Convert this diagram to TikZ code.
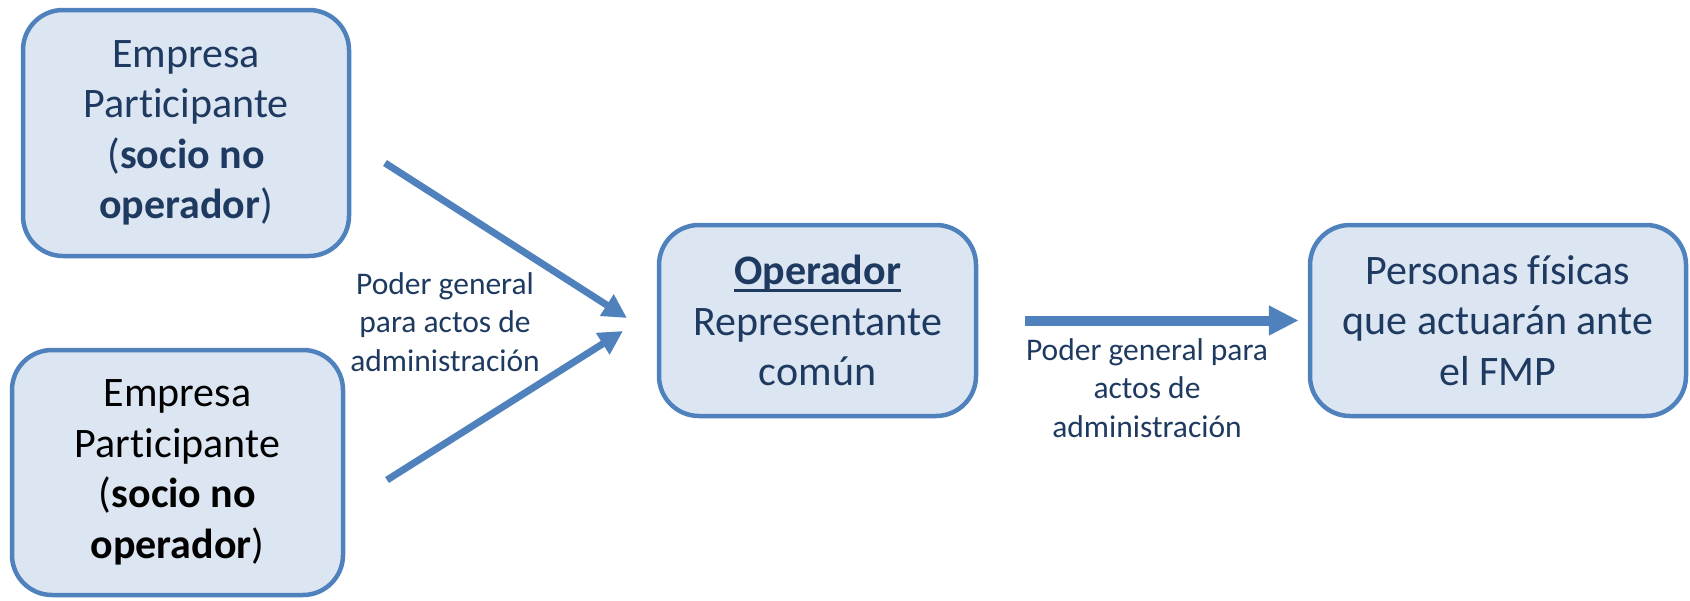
\documentclass[tikz,border=0pt]{standalone}
\usepackage{fontspec}
\setmainfont{Carlito}[Ligatures={NoCommon}]
\usetikzlibrary{arrows.meta}
\definecolor{bordercol}{HTML}{4F81BD}
\definecolor{fillcol}{HTML}{DCE6F2}
\definecolor{textcol}{HTML}{1F3A60}
\newcommand\ulx[1]{\setbox0\hbox{#1}\leavevmode\rlap{\raisebox{-7.3pt}{\rule{\wd0}{2.6pt}}}\box0}
\begin{document}
\begin{tikzpicture}[x=1pt,y=-1pt,
  box/.style={draw=bordercol, fill=fillcol, line width=4.5pt, rounded corners=40pt,
    align=center, inner sep=0pt, font=\fontsize{42}{50.5}\selectfont, text=textcol},
  lbl/.style={align=center, inner sep=0pt, font=\fontsize{31.5}{38.5}\selectfont, text=textcol},
  thinarrow/.style={draw=bordercol, line width=7pt, -{Triangle[length=24pt,width=24pt]}},
  thickarrow/.style={draw=bordercol, line width=10pt, -{Triangle[length=30pt,width=28pt]}}
]
\useasboundingbox (0,0) rectangle (1690,600);
\node[box, minimum width=326pt, minimum height=246pt] (ep1) at (186,133)
  {Empresa\\Participante\\(\textbf{socio no}\\\textbf{operador})};
\node[box, minimum width=331pt, minimum height=245pt, text=black] (ep2) at (177.5,472.5)
  {Empresa\\Participante\\(\textbf{socio no}\\\textbf{operador})};
\node[box, minimum width=317pt, minimum height=191pt] (op) at (817.5,320.5)
  {\ulx{\textbf{Operador}}\\Representante\\común};
\node[box, minimum width=376pt, minimum height=191pt] (pf) at (1498,320.5)
  {Personas físicas\\que actuarán ante\\el FMP};
\coordinate (s1) at (385,163);
\coordinate (t1) at (627,318);
\coordinate (s2) at (387,480);
\coordinate (t2) at (623,331);
\draw[thinarrow] (s1) -- (t1);
\draw[thinarrow] (s2) -- (t2);
\draw[thickarrow, shorten <=47pt, shorten >=9pt] (op.east) -- (pf.west);
\node[lbl] (l1) at (445,322) {Poder general\\para actos de\\administración};
\node[lbl] (l2) at (1147,388) {Poder general para\\actos de\\administración};
\end{tikzpicture}
\end{document}
